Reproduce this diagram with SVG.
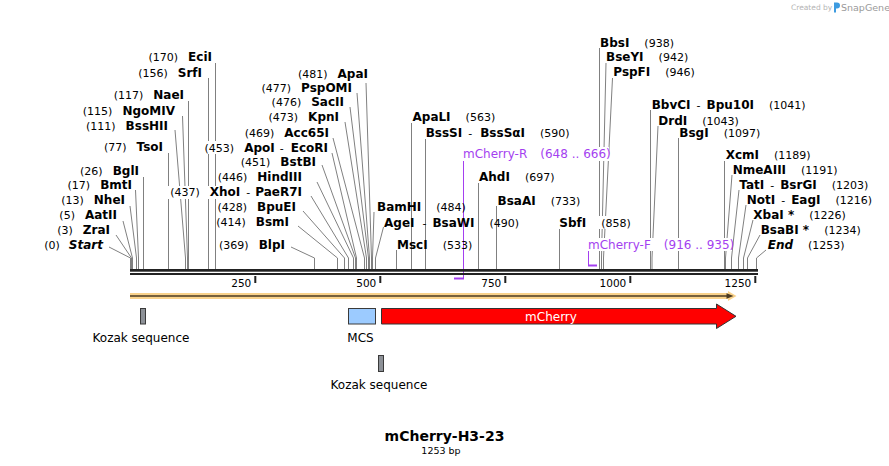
<svg xmlns="http://www.w3.org/2000/svg" width="889" height="466" viewBox="0 0 889 466">
<style>
text{font-family:"DejaVu Sans",Verdana,sans-serif;font-size:11px;fill:#000}
.b{font-weight:bold;font-size:12px}
.bi{font-weight:bold;font-style:italic;font-size:12px}
.e{text-anchor:end}
.m{text-anchor:middle}
.cl{stroke:#808080;stroke-width:1;fill:none}
.pt{fill:#a43ff0;font-size:12px}
.pl{stroke:#a43ff0;stroke-width:1;fill:none}
.pb{stroke:#a43ff0;stroke-width:2;fill:none}
.bg{fill:#fff}
.tk{font-size:10.5px}
.fl{font-size:12px}
.bb{fill:#222}
.kz{fill:#8d9197;stroke:#3a3a3a;stroke-width:1}
</style>
<rect width="889" height="466" fill="#fff"/>

<g id="watermark">
<text x="791" y="10" style="font-size:7.5px;fill:#b4b4b4">Created by</text>
<path d="M834,2.5 h3 a3,3 0 0 1 0,6 h-1 v4 h-2 z" fill="#3d9be0"/>
<text x="841" y="11" style="font-size:9.5px;fill:#9a9a9a">SnapGene</text>
</g>

<g id="connectors">
<path class="cl" d="M109,247 L130.5,258 V269"/>
<path class="cl" d="M116,235 L131.5,258 V269"/>
<path class="cl" d="M123,221 L132.5,258 V269"/>
<path class="cl" d="M130,206 L136.5,258 V269"/>
<path class="cl" d="M135.5,190 L138.5,258 V269"/>
<path class="cl" d="M143.5,177 V269"/>
<path class="cl" d="M168.5,153 V269"/>
<path class="cl" d="M175,130 L185.5,258 V269"/>
<path class="cl" d="M182.5,116 L187.5,258 V269"/>
<path class="cl" d="M188.5,101 V269"/>
<path class="cl" d="M208.5,78 V269"/>
<path class="cl" d="M215.5,63 V269"/>
<path class="cl" d="M291,247 L314.5,258 V269"/>
<path class="cl" d="M298,226 L337.5,258 V269"/>
<path class="cl" d="M303,211 L344.5,258 V269"/>
<path class="cl" d="M311,196 L348.5,258 V269"/>
<path class="cl" d="M317,182 L353.5,258 V269"/>
<path class="cl" d="M322,165 L355.5,258 V269"/>
<path class="cl" d="M332,153 L356.5,258 V269"/>
<path class="cl" d="M333,138 L364.5,258 V269"/>
<path class="cl" d="M345,122 L366.5,258 V269"/>
<path class="cl" d="M350,107 L368.5,258 V269"/>
<path class="cl" d="M357,93 L369.5,258 V269"/>
<path class="cl" d="M366,83 L371.5,258 V269"/>
<path class="cl" d="M374,212 L372.5,258 V269"/>
<path class="cl" d="M383.5,227 L375.5,258 V269"/>
<path class="cl" d="M396.5,250 V269"/>
<path class="cl" d="M411.5,123 V269"/>
<path class="cl" d="M425.5,139 V269"/>
<path class="cl" d="M478.5,183 V269"/>
<path class="cl" d="M496.5,206 V269"/>
<path class="cl" d="M559.5,228 V269"/>
<path class="cl" d="M599.5,48 V269"/>
<path class="cl" d="M606,63 L601.5,258 V269"/>
<path class="cl" d="M612.5,78 L603.5,258 V269"/>
<path class="cl" d="M650.5,110 V269"/>
<path class="cl" d="M658,126 L652,258 V269"/>
<path class="cl" d="M678.5,138 V269"/>
<path class="cl" d="M724.5,161 V269"/>
<path class="cl" d="M732,175 L725.5,258 V269"/>
<path class="cl" d="M739,190 L731.5,258 V269"/>
<path class="cl" d="M746,205 L738.5,258 V269"/>
<path class="cl" d="M753,220 L743.5,258 V269"/>
<path class="cl" d="M760,235 L747.5,258 V269"/>
<path class="cl" d="M766,250 L756.5,258 V269"/>
<path class="pl" d="M463.5,161 V278"/>
<path class="pb" d="M454,278.5 H464"/>
<path class="pl" d="M588.5,250 V265"/>
<path class="pb" d="M588,265.5 H597"/>
</g>

<g id="backbone">
<rect class="bb" x="130" y="269" width="628" height="2.7"/>
<rect class="bb" x="130" y="273" width="628" height="2"/>
<rect class="bb" x="254.3" y="276" width="2" height="7"/>
<rect class="bb" x="379.3" y="276" width="2" height="7"/>
<rect class="bb" x="504.3" y="276" width="2" height="7"/>
<rect class="bb" x="629.3" y="276" width="2" height="7"/>
<rect class="bb" x="754.3" y="276" width="2" height="7"/>
<text class="tk e" x="251.3" y="286.5">250</text>
<text class="tk e" x="376.3" y="286.5">500</text>
<text class="tk e" x="501.3" y="286.5">750</text>
<text class="tk e" x="626.3" y="286.5">1000</text>
<text class="tk e" x="751.3" y="286.5">1250</text>
</g>

<g id="site-Start"><text class="e" x="103" y="249">(0)<tspan class="bi" dx="9">Start</tspan></text></g>
<g id="site-ZraI"><text class="e" x="110" y="234">(3)<tspan class="b" dx="10">ZraI</tspan></text></g>
<g id="site-AatII"><text class="e" x="117" y="219">(5)<tspan class="b" dx="10">AatII</tspan></text></g>
<g id="site-NheI"><text class="e" x="125" y="204">(13)<tspan class="b" dx="10">NheI</tspan></text></g>
<g id="site-BmtI"><text class="e" x="132" y="188.5">(17)<tspan class="b" dx="10">BmtI</tspan></text></g>
<g id="site-BglI"><text class="e" x="139" y="175">(26)<tspan class="b" dx="10">BglI</tspan></text></g>
<g id="site-TsoI"><text class="e" x="163" y="151">(77)<tspan class="b" dx="10">TsoI</tspan></text></g>
<g id="site-BssHII"><text class="e" x="168" y="129.5">(111)<tspan class="b" dx="10">BssHII</tspan></text></g>
<g id="site-NgoMIV"><text class="e" x="175" y="114.5">(115)<tspan class="b" dx="10">NgoMIV</tspan></text></g>
<g id="site-NaeI"><text class="e" x="184" y="99">(117)<tspan class="b" dx="10">NaeI</tspan></text></g>
<g id="site-SrfI"><text class="e" x="202" y="77">(156)<tspan class="b" dx="10">SrfI</tspan></text></g>
<g id="site-EciI"><text class="e" x="212" y="61">(170)<tspan class="b" dx="10">EciI</tspan></text></g>

<g id="site-BlpI"><text class="e" x="285" y="249">(369)<tspan class="b" dx="10">BlpI</tspan></text></g>
<g id="site-BsmI"><text class="e" x="289" y="226">(414)<tspan class="b" dx="10">BsmI</tspan></text></g>
<g id="site-BpuEI"><text class="e" x="296" y="211">(428)<tspan class="b" dx="10">BpuEI</tspan></text></g>
<g id="site-XhoI"><rect class="bg" x="166" y="186" width="137" height="13"/><text class="e" x="302" y="196">(437)<tspan class="b" dx="10">XhoI</tspan><tspan dx="6">-</tspan><tspan class="b" dx="5">PaeR7I</tspan></text></g>
<g id="site-HindIII"><text class="e" x="302" y="180.5">(446)<tspan class="b" dx="10">HindIII</tspan></text></g>
<g id="site-BstBI"><text class="e" x="316" y="166">(451)<tspan class="b" dx="10">BstBI</tspan></text></g>
<g id="site-ApoI"><rect class="bg" x="195" y="141" width="134" height="13"/><text class="e" x="328" y="151.5">(453)<tspan class="b" dx="10">ApoI</tspan><tspan dx="5">-</tspan><tspan class="b" dx="7">EcoRI</tspan></text></g>
<g id="site-Acc65I"><text class="e" x="329" y="136.5">(469)<tspan class="b" dx="10">Acc65I</tspan></text></g>
<g id="site-KpnI"><text class="e" x="339" y="121">(473)<tspan class="b" dx="10">KpnI</tspan></text></g>
<g id="site-SacII"><text class="e" x="344" y="106">(476)<tspan class="b" dx="10">SacII</tspan></text></g>
<g id="site-PspOMI"><text class="e" x="352" y="91.5">(477)<tspan class="b" dx="10">PspOMI</tspan></text></g>
<g id="site-ApaI"><text class="e" x="368" y="77.5">(481)<tspan class="b" dx="10">ApaI</tspan></text></g>

<g id="site-BamHI"><text x="377" y="211"><tspan class="b">BamHI</tspan><tspan dx="15">(484)</tspan></text></g>
<g id="site-AgeI"><text x="384" y="226.5"><tspan class="b">AgeI</tspan><tspan dx="8">-</tspan><tspan class="b" dx="6">BsaWI</tspan><tspan dx="15">(490)</tspan></text></g>
<g id="site-MscI"><text x="397" y="249"><tspan class="b">MscI</tspan><tspan dx="15">(533)</tspan></text></g>
<g id="site-ApaLI"><text x="412.5" y="120.5"><tspan class="b">ApaLI</tspan><tspan dx="15">(563)</tspan></text></g>
<g id="site-BssSI"><text x="425.7" y="136.5"><tspan class="b">BssSI</tspan><tspan dx="6">-</tspan><tspan class="b" dx="8">BssSαI</tspan><tspan dx="15">(590)</tspan></text></g>
<g id="site-AhdI"><text x="479" y="181"><tspan class="b">AhdI</tspan><tspan dx="15">(697)</tspan></text></g>
<g id="site-BsaAI"><text x="497.5" y="204.5"><tspan class="b">BsaAI</tspan><tspan dx="15">(733)</tspan></text></g>
<g id="site-SbfI"><rect class="bg" x="558" y="216" width="74" height="13"/><text x="559.3" y="226.5"><tspan class="b">SbfI</tspan><tspan dx="15">(858)</tspan></text></g>
<g id="site-BbsI"><text x="600" y="47"><tspan class="b">BbsI</tspan><tspan dx="15">(938)</tspan></text></g>
<g id="site-BseYI"><text x="606" y="61"><tspan class="b">BseYI</tspan><tspan dx="15">(942)</tspan></text></g>
<g id="site-PspFI"><text x="613.3" y="76"><tspan class="b">PspFI</tspan><tspan dx="15">(946)</tspan></text></g>
<g id="site-BbvCI"><text x="651.7" y="108.5"><tspan class="b">BbvCI</tspan><tspan dx="6">-</tspan><tspan class="b" dx="6">Bpu10I</tspan><tspan dx="15">(1041)</tspan></text></g>
<g id="site-DrdI"><text x="658.3" y="124.5"><tspan class="b">DrdI</tspan><tspan dx="15">(1043)</tspan></text></g>
<g id="site-BsgI"><text x="679.3" y="136.5"><tspan class="b">BsgI</tspan><tspan dx="15">(1097)</tspan></text></g>
<g id="site-XcmI"><text x="725.7" y="159"><tspan class="b">XcmI</tspan><tspan dx="15">(1189)</tspan></text></g>
<g id="site-NmeAIII"><text x="732.7" y="174"><tspan class="b">NmeAIII</tspan><tspan dx="15">(1191)</tspan></text></g>
<g id="site-TatI"><text x="739.3" y="189"><tspan class="b">TatI</tspan><tspan dx="6">-</tspan><tspan class="b" dx="6">BsrGI</tspan><tspan dx="15">(1203)</tspan></text></g>
<g id="site-NotI"><text x="746.7" y="204"><tspan class="b">NotI</tspan><tspan dx="6">-</tspan><tspan class="b" dx="6">EagI</tspan><tspan dx="15">(1216)</tspan></text></g>
<g id="site-XbaI"><text x="753.3" y="219"><tspan class="b">XbaI *</tspan><tspan dx="15">(1226)</tspan></text></g>
<g id="site-BsaBI"><text x="760.7" y="234"><tspan class="b">BsaBI *</tspan><tspan dx="15">(1234)</tspan></text></g>
<g id="site-End"><text x="767.7" y="249"><tspan class="bi">End</tspan><tspan dx="15">(1253)</tspan></text></g>

<g id="primer-mCherry-R"><rect class="bg" x="462" y="147" width="147" height="14"/><text class="pt" x="463" y="158">mCherry-R<tspan dx="13">(648 .. 666)</tspan></text></g>
<g id="primer-mCherry-F"><rect class="bg" x="587" y="238" width="145" height="13"/><text class="pt" x="588" y="248.5">mCherry-F<tspan dx="13">(916 .. 935)</tspan></text></g>

<g id="feature-orange">
<rect x="130" y="293" width="599" height="6" fill="#f9d28b"/>
<polygon points="728,291 736.5,296 728,301" fill="#f9d28b"/>
<path d="M130,296 H730" stroke="#4a3a22" stroke-width="1.6"/>
<polygon points="726.5,293.2 733.5,296 726.5,298.8" fill="#4a3a22"/>
</g>
<g id="feature-kozak1">
<rect class="kz" x="140.5" y="308.5" width="5" height="15.5"/>
<text class="fl m" x="141" y="342">Kozak sequence</text>
</g>
<g id="feature-MCS">
<rect x="348.5" y="308.5" width="27" height="15.5" fill="#9ccbff" stroke="#3a3a3a" stroke-width="1"/>
<text class="fl m" x="360.5" y="342">MCS</text>
</g>
<g id="feature-mCherry">
<polygon points="381.5,308.5 716.5,308.5 716.5,304 736,316.3 716.5,328.5 716.5,324 381.5,324" fill="#ff0000" stroke="#333" stroke-width="1"/>
<text class="fl m" x="551" y="320.5" style="fill:#fff">mCherry</text>
</g>
<g id="feature-kozak2">
<rect class="kz" x="378.5" y="355.5" width="5" height="16"/>
<text class="fl m" x="379" y="389">Kozak sequence</text>
</g>

<g id="title">
<text class="m" x="444.5" y="441" style="font-weight:bold;font-size:14px">mCherry-H3-23</text>
<text class="m" x="441" y="454" style="font-size:9.5px">1253 bp</text>
</g>
</svg>
